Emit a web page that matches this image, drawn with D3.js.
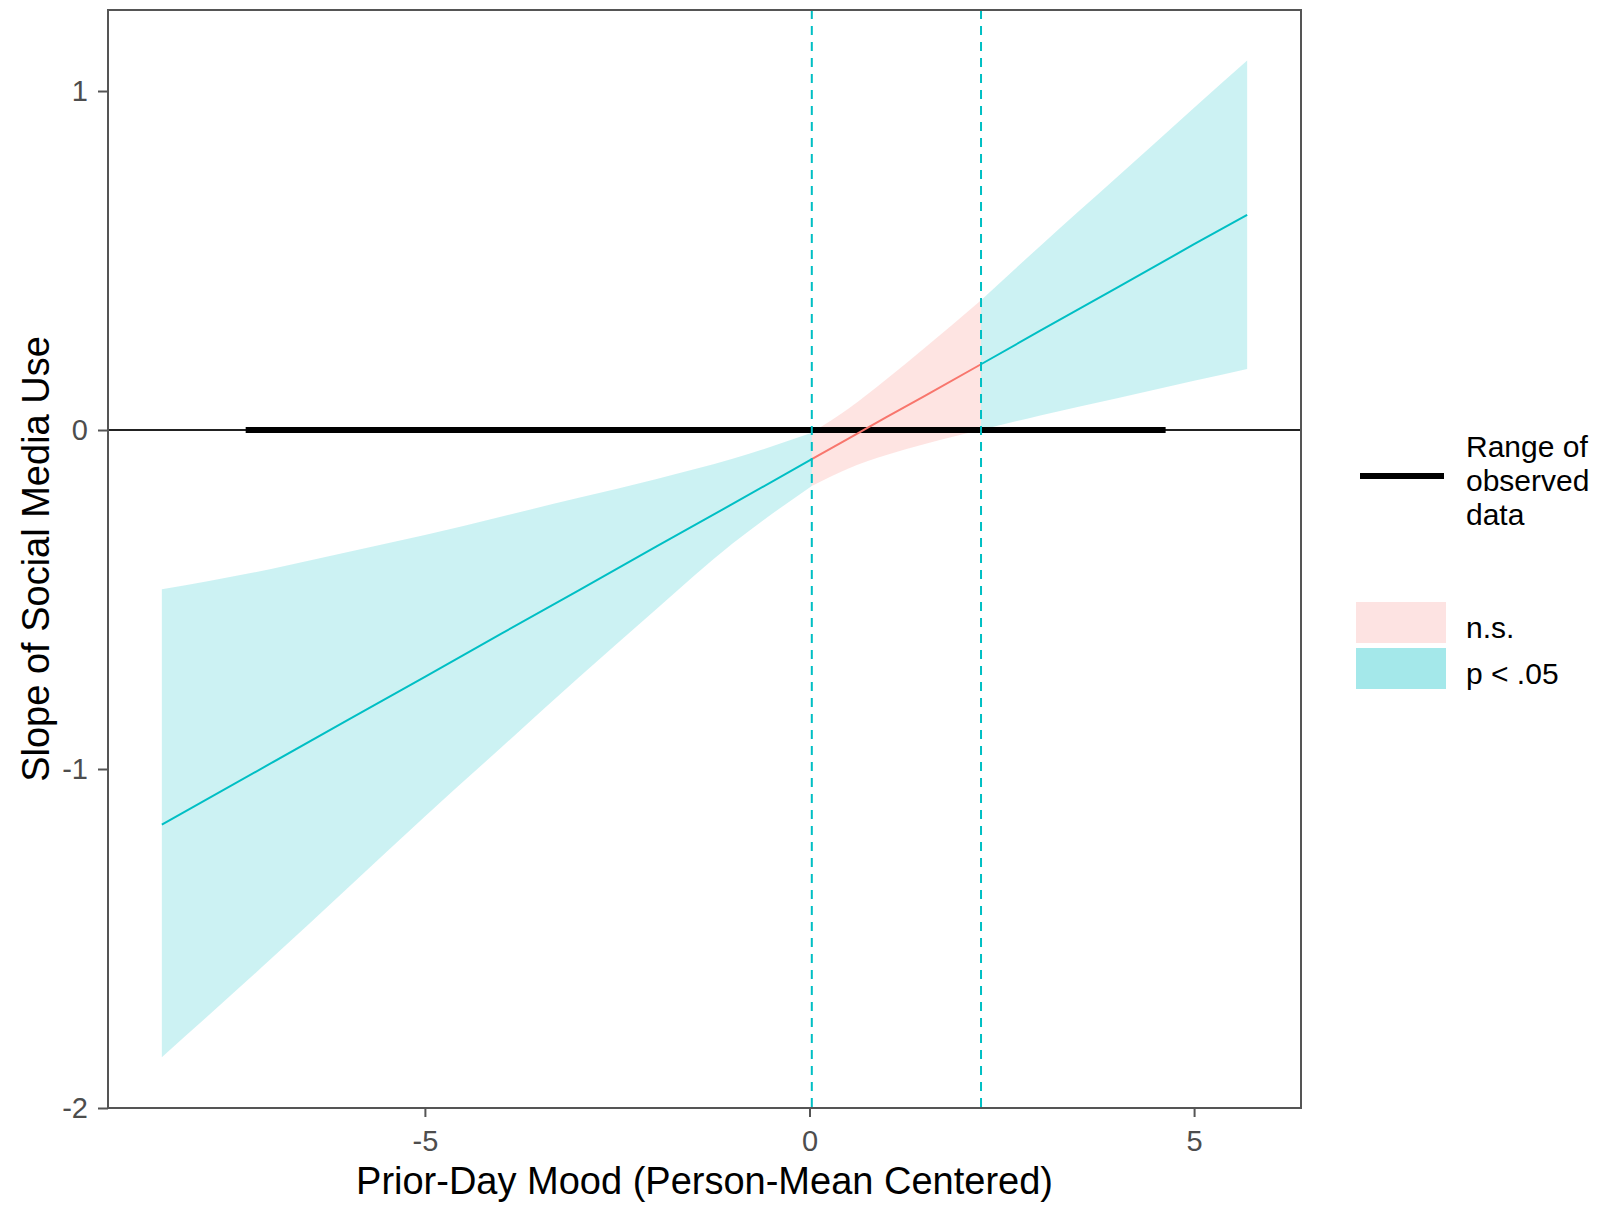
<!DOCTYPE html>
<html>
<head>
<meta charset="utf-8">
<script src="https://cdn.jsdelivr.net/npm/d3@7"></script>
<style>
  body { margin: 0; background: #fff; }
  text { font-family: "Liberation Sans", Arial, sans-serif; }
</style>
</head>
<body>
<svg id="chart" width="1602" height="1206"></svg>
<script>
// values
var moodX    = [-8.42, -7, -6, -5, -4, -3, -2, -1, 0.03, 0.5, 1, 1.5, 2.23, 3, 4, 5, 5.69];
var slopeFit = [-1.164, -0.983, -0.855, -0.728, -0.600, -0.473, -0.345, -0.218, -0.086, -0.026, 0.038, 0.101, 0.194, 0.293, 0.420, 0.548, 0.635];
var upperCI  = [-0.47, -0.41, -0.36, -0.31, -0.255, -0.20, -0.145, -0.085, -0.008, 0.062, 0.150, 0.243, 0.383, 0.543, 0.746, 0.951, 1.09];
var lowerCI  = [-1.85, -1.56, -1.35, -1.14, -0.935, -0.73, -0.53, -0.335, -0.165, -0.114, -0.074, -0.041, 0.00, 0.043, 0.094, 0.145, 0.18];
var jnBounds = [0.03, 2.23];          // dashed lines (Johnson-Neyman points)
var observedRange = [-7.33, 4.63];    // thick black bar on y = 0
var xTicks = [-5, 0, 5];
var xTickLabels = ["-5", "0", "5"];
var yTicks = [-2, -1, 0, 1];
var yTickLabels = ["-2", "-1", "0", "1"];
var legendFill = ["n.s.", "p < .05"];

var svg = d3.select("#chart");
var pLeft = 108, pRight = 1301, pTop = 10, pBottom = 1108;

var x = d3.scaleLinear().domain([-9.12, 6.39]).range([pLeft, pRight]);
var y = d3.scaleLinear().domain([-2, 1.239]).range([pBottom, pTop]);

var teal = "#00BFC4", red = "#F8766D";

var data = moodX.map(function(d, i) {
  return {x: d, fit: slopeFit[i], lo: lowerCI[i], hi: upperCI[i]};
});

// split into regions, boundary points shared
var leftPart = data.filter(function(d) { return d.x <= jnBounds[0]; });
var midPart = data.filter(function(d) { return d.x >= jnBounds[0] && d.x <= jnBounds[1]; });
var rightPart = data.filter(function(d) { return d.x >= jnBounds[1]; });

var area = d3.area().x(function(d) { return x(d.x); }).y0(function(d) { return y(d.lo); }).y1(function(d) { return y(d.hi); }).curve(d3.curveMonotoneX);
var line = d3.line().x(function(d) { return x(d.x); }).y(function(d) { return y(d.fit); });

var plot = svg.append("g");

plot.append("path").datum(leftPart).attr("d", area).attr("fill", teal).attr("fill-opacity", 0.2);
plot.append("path").datum(midPart).attr("d", area).attr("fill", red).attr("fill-opacity", 0.2);
plot.append("path").datum(rightPart).attr("d", area).attr("fill", teal).attr("fill-opacity", 0.2);

// zero line
plot.append("line").attr("x1", pLeft).attr("x2", pRight).attr("y1", y(0)).attr("y2", y(0)).attr("stroke", "#222").attr("stroke-width", 2);
// observed data range
plot.append("line").attr("x1", x(observedRange[0])).attr("x2", x(observedRange[1])).attr("y1", y(0)).attr("y2", y(0)).attr("stroke", "#000").attr("stroke-width", 6);

// fit lines
plot.append("path").datum(leftPart).attr("d", line).attr("fill", "none").attr("stroke", teal).attr("stroke-width", 2);
plot.append("path").datum(midPart).attr("d", line).attr("fill", "none").attr("stroke", red).attr("stroke-width", 2);
plot.append("path").datum(rightPart).attr("d", line).attr("fill", "none").attr("stroke", teal).attr("stroke-width", 2);

// dashed J-N lines
plot.selectAll(".jn").data(jnBounds).enter().append("line").attr("class", "jn")
  .attr("x1", function(d) { return x(d); }).attr("x2", function(d) { return x(d); })
  .attr("y1", pTop).attr("y2", pBottom)
  .attr("stroke", teal).attr("stroke-width", 2).attr("stroke-dasharray", "9,7");

// axes
var xAxis = svg.append("g").attr("transform", "translate(0," + pBottom + ")")
  .call(d3.axisBottom(x).tickValues(xTicks).tickSize(9).tickPadding(13).tickFormat(function(d, i) { return xTickLabels[i]; }));
var yAxis = svg.append("g").attr("transform", "translate(" + pLeft + ",0)")
  .call(d3.axisLeft(y).tickValues(yTicks).tickSize(10).tickPadding(10).tickFormat(function(d, i) { return yTickLabels[i]; }));

[xAxis, yAxis].forEach(function(a) {
  a.select(".domain").remove();
  a.selectAll(".tick line").attr("stroke", "#555").attr("stroke-width", 2);
  a.selectAll(".tick text").attr("fill", "#4d4d4d").style("font-size", "29px").style("font-family", "'Liberation Sans', Arial, sans-serif");
});

// panel border
svg.append("rect").attr("x", pLeft).attr("y", pTop).attr("width", pRight - pLeft).attr("height", pBottom - pTop)
  .attr("fill", "none").attr("stroke", "#555").attr("stroke-width", 2);

// axis titles
svg.append("text").attr("text-anchor", "middle").attr("x", (pLeft + pRight) / 2).attr("y", 1194)
  .style("font-size", "38px").attr("fill", "#000").text("Prior-Day Mood (Person-Mean Centered)");
svg.append("text").attr("text-anchor", "middle").attr("transform", "translate(49," + ((pTop + pBottom) / 2) + ") rotate(-90)")
  .style("font-size", "38px").attr("fill", "#000").text("Slope of Social Media Use");

// legend: observed range
var lg = svg.append("g");
lg.append("line").attr("x1", 1360).attr("x2", 1444).attr("y1", 476).attr("y2", 476).attr("stroke", "#000").attr("stroke-width", 6);
["Range of", "observed", "data"].forEach(function(t, i) {
  lg.append("text").attr("x", 1466).attr("y", 457 + i * 34).style("font-size", "30px").attr("fill", "#000").text(t);
});

// legend: significance fill
var keyCols = ["#fde3e2", "#a4e8ea"];
lg.selectAll(".key").data(legendFill).enter().append("rect").attr("class", "key")
  .attr("x", 1356).attr("y", function(d, i) { return 602 + i * 46; })
  .attr("width", 90).attr("height", 41)
  .attr("fill", function(d, i) { return keyCols[i]; });
lg.selectAll(".keytext").data(legendFill).enter().append("text").attr("class", "keytext")
  .attr("x", 1466).attr("y", function(d, i) { return 638 + i * 46; })
  .style("font-size", "30px").attr("fill", "#000").text(function(d) { return d; });
</script>
</body>
</html>
